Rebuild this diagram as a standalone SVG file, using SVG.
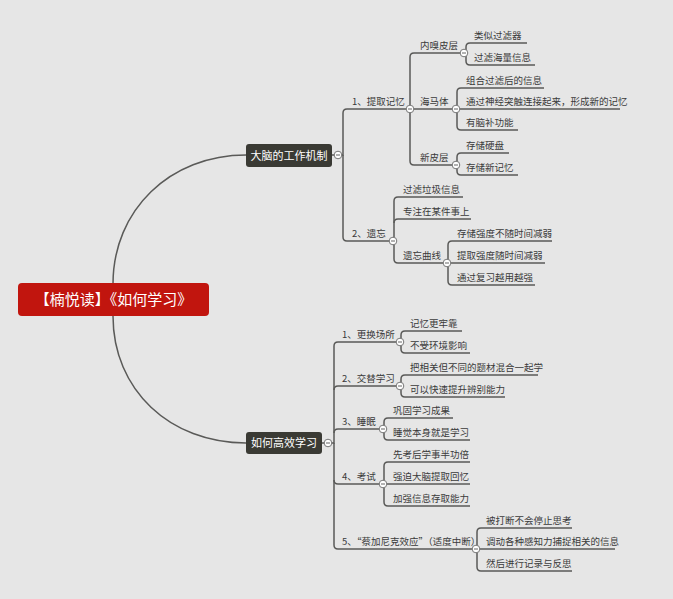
<svg xmlns="http://www.w3.org/2000/svg" width="673" height="599" viewBox="0 0 673 599">
<style>
.c{fill:none;stroke:#5a5a58;stroke-width:1.5}
.t{font-family:"Noto Sans CJK SC",sans-serif;font-size:9.5px;fill:#3a3a3a}
.m{font-family:"Noto Sans CJK SC",sans-serif;font-size:11px;fill:#fff;text-anchor:middle}
.k{fill:#fff;stroke:#777;stroke-width:1}
</style>
<defs>
<g id="tog"><circle r="3.8" class="k"/><line x1="-2" x2="2" stroke="#666" stroke-width="1"/></g>
</defs>
<rect width="673" height="599" fill="#e6e6e6"/>
<g id="connectors" class="c">
<path d="M113,284 C113,210 170,155 246,155"/>
<path d="M113,316 C113,390 170,443 246,443"/>
<path d="M332,155 H343 V113 Q343,109 347,109 H410"/>
<path d="M343,155 V237 Q343,241 347,241 H393"/>
<path d="M410,109 V57 Q410,53 414,53 H464"/>
<path d="M410,109 H456"/>
<path d="M410,109 V161 Q410,165 414,165 H456"/>
<path d="M464,53 H466 V47 Q466,43 470,43 H527"/>
<path d="M466,53 V61 Q466,65 470,65 H535"/>
<path d="M456,109 H457 V92 Q457,88 461,88 H544"/>
<path d="M456,109 H620"/>
<path d="M457,109 V126 Q457,130 461,130 H518"/>
<path d="M456,165 H457 V157 Q457,153 461,153 H509"/>
<path d="M457,165 V171 Q457,175 461,175 H518"/>
<path d="M393,241 H394 V201 Q394,197 398,197 H463"/>
<path d="M394,223 Q394,219 398,219 H471"/>
<path d="M394,241 V259 Q394,263 398,263 H447"/>
<path d="M447,263 H448 V245 Q448,241 452,241 H552"/>
<path d="M448,263 H545"/>
<path d="M448,263 V281 Q448,285 452,285 H535"/>
<path d="M322,443 H334 V346 Q334,342 338,342 H400"/>
<path d="M334,390 Q334,386 338,386 H400"/>
<path d="M334,433 Q334,429 338,429 H383"/>
<path d="M334,443 V480 Q334,484 338,484 H383"/>
<path d="M334,480 V545 Q334,549 338,549 H476"/>
<path d="M400,342 H401 V335 Q401,331 405,331 H462"/>
<path d="M401,342 V349 Q401,353 405,353 H470"/>
<path d="M400,386 H401 V379 Q401,375 405,375 H538"/>
<path d="M401,386 V393 Q401,397 405,397 H505"/>
<path d="M383,429 H384 V422 Q384,418 388,418 H453"/>
<path d="M384,429 V436 Q384,440 388,440 H470"/>
<path d="M383,484 H384 V466 Q384,462 388,462 H470"/>
<path d="M384,484 H470"/>
<path d="M384,484 V502 Q384,506 388,506 H470"/>
<path d="M476,549 H477 V532 Q477,528 481,528 H572"/>
<path d="M477,549 H615"/>
<path d="M477,549 V567 Q477,571 481,571 H572"/>
</g>
<g id="root"><rect x="18" y="283" width="191" height="33" rx="4" fill="#c1150e"/><text x="113.5" y="305" class="m" style="font-size:15px">【楠悦读】《如何学习》</text></g>
<g id="main1"><rect x="246" y="144" width="86" height="23" rx="3" fill="#3a3a34"/><text x="289" y="159.5" class="m">大脑的工作机制</text><use href="#tog" x="338" y="155"/></g>
<g id="main2"><rect x="246" y="432" width="76" height="22" rx="3" fill="#3a3a34"/><text x="284" y="447" class="m">如何高效学习</text><use href="#tog" x="328" y="443"/></g>
<g id="n1"><text x="352" y="105" class="t">1、提取记忆</text><use href="#tog" x="410" y="109"/></g>
<g id="n11"><text x="420" y="49" class="t">内嗅皮层</text><use href="#tog" x="464" y="53"/></g>
<g id="n111"><text x="474" y="39" class="t">类似过滤器</text></g>
<g id="n112"><text x="474" y="61" class="t">过滤海量信息</text></g>
<g id="n12"><text x="420" y="105" class="t">海马体</text><use href="#tog" x="456" y="109"/></g>
<g id="n121"><text x="466" y="84" class="t">组合过滤后的信息</text></g>
<g id="n122"><text x="466" y="105" class="t">通过神经突触连接起来，形成新的记忆</text></g>
<g id="n123"><text x="466" y="126" class="t">有脑补功能</text></g>
<g id="n13"><text x="420" y="161" class="t">新皮层</text><use href="#tog" x="456" y="165"/></g>
<g id="n131"><text x="466" y="149" class="t">存储硬盘</text></g>
<g id="n132"><text x="466" y="171" class="t">存储新记忆</text></g>
<g id="n2"><text x="352" y="237" class="t">2、遗忘</text><use href="#tog" x="393" y="241"/></g>
<g id="n21"><text x="403" y="193" class="t">过滤垃圾信息</text></g>
<g id="n22"><text x="403" y="215" class="t">专注在某件事上</text></g>
<g id="n23"><text x="403" y="259" class="t">遗忘曲线</text><use href="#tog" x="447" y="263"/></g>
<g id="n231"><text x="457" y="237" class="t">存储强度不随时间减弱</text></g>
<g id="n232"><text x="457" y="259" class="t">提取强度随时间减弱</text></g>
<g id="n233"><text x="457" y="281" class="t">通过复习越用越强</text></g>
<g id="m1"><text x="342" y="338" class="t">1、更换场所</text><use href="#tog" x="400" y="342"/></g>
<g id="m11"><text x="410" y="327" class="t">记忆更牢靠</text></g>
<g id="m12"><text x="410" y="349" class="t">不受环境影响</text></g>
<g id="m2"><text x="342" y="382" class="t">2、交替学习</text><use href="#tog" x="400" y="386"/></g>
<g id="m21"><text x="410" y="371" class="t">把相关但不同的题材混合一起学</text></g>
<g id="m22"><text x="410" y="393" class="t">可以快速提升辨别能力</text></g>
<g id="m3"><text x="342" y="425" class="t">3、睡眠</text><use href="#tog" x="383" y="429"/></g>
<g id="m31"><text x="393" y="414" class="t">巩固学习成果</text></g>
<g id="m32"><text x="393" y="436" class="t">睡觉本身就是学习</text></g>
<g id="m4"><text x="342" y="480" class="t">4、考试</text><use href="#tog" x="383" y="484"/></g>
<g id="m41"><text x="393" y="458" class="t">先考后学事半功倍</text></g>
<g id="m42"><text x="393" y="480" class="t">强迫大脑提取回忆</text></g>
<g id="m43"><text x="393" y="502" class="t">加强信息存取能力</text></g>
<g id="m5"><text x="342" y="545" class="t">5、“蔡加尼克效应”（适度中断）</text><use href="#tog" x="476" y="549"/></g>
<g id="m51"><text x="486" y="524" class="t">被打断不会停止思考</text></g>
<g id="m52"><text x="486" y="545" class="t">调动各种感知力捕捉相关的信息</text></g>
<g id="m53"><text x="486" y="567" class="t">然后进行记录与反思</text></g>
</svg>
